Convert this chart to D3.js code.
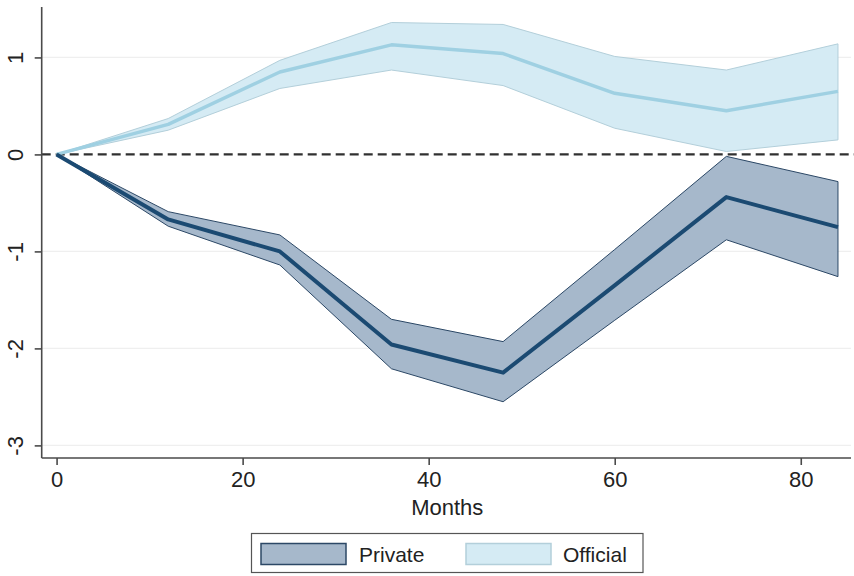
<!DOCTYPE html>
<html>
<head>
<meta charset="utf-8">
<script src="https://cdn.jsdelivr.net/npm/d3@7"></script>
<style>
  html, body { margin: 0; padding: 0; background: #ffffff; }
  svg { display: block; font-family: "Liberation Sans", Arial, sans-serif; }
</style>
</head>
<body>
<svg id="chart" width="854" height="576"></svg>
<script>
// Impulse responses by horizon (months)
const months = [0, 12, 24, 36, 48, 60, 72, 84];

const privateMean  = [0, -0.67, -1.00, -1.96, -2.25, -1.35, -0.44, -0.75];
const privateUpper = [0, -0.59, -0.83, -1.70, -1.93, -0.98, -0.02, -0.28];
const privateLower = [0, -0.74, -1.14, -2.21, -2.55, -1.71, -0.88, -1.26];

const officialMean  = [0, 0.31, 0.85, 1.13, 1.04, 0.63, 0.45, 0.65];
const officialUpper = [0, 0.37, 0.97, 1.36, 1.34, 1.01, 0.87, 1.14];
const officialLower = [0, 0.25, 0.68, 0.87, 0.71, 0.27, 0.03, 0.15];

const xTicks = [0, 20, 40, 60, 80];
const yTicks = [-3, -2, -1, 0, 1];
const legendLabels = ["Private", "Official"];

const svg = d3.select("#chart");

const x = d3.scaleLinear().domain([-1.6, 85.4]).range([41.7, 851]);
const y = d3.scaleLinear().domain([-3.13, 1.52]).range([458, 7]);

const colors = {
  privFill: "#a6b8cb", privEdge: "#2c4866", privLine: "#1b4a72",
  offFill: "#d5ebf4", offEdge: "#b3cfda", offLine: "#9fd0e2"
};

// light horizontal gridlines
svg.append("g")
  .selectAll("line")
  .data(yTicks.filter(v => v !== 0))
  .join("line")
  .attr("x1", x.range()[0]).attr("x2", x.range()[1])
  .attr("y1", d => y(d)).attr("y2", d => y(d))
  .attr("stroke", "#efefef").attr("stroke-width", 1.2);

const pts = (lo, hi) => months.map((m, i) => ({ m, lo: lo[i], hi: hi[i] }));
const area = d3.area().x(d => x(d.m)).y0(d => y(d.lo)).y1(d => y(d.hi));
const edge = key => d3.line().x(d => x(d.m)).y(d => y(d[key]));
const meanLine = d3.line().x(d => x(d[0])).y(d => y(d[1]));

function band(lo, hi, fill, stroke) {
  const data = pts(lo, hi);
  svg.append("path").datum(data).attr("d", area).attr("fill", fill);
  svg.append("path").datum(data).attr("d", edge("hi"))
    .attr("fill", "none").attr("stroke", stroke).attr("stroke-width", 1);
  svg.append("path").datum(data).attr("d", edge("lo"))
    .attr("fill", "none").attr("stroke", stroke).attr("stroke-width", 1);
  // closing edge at the last horizon
  const last = data[data.length - 1];
  svg.append("line")
    .attr("x1", x(last.m)).attr("x2", x(last.m))
    .attr("y1", y(last.lo)).attr("y2", y(last.hi))
    .attr("stroke", stroke).attr("stroke-width", 1);
}

band(officialLower, officialUpper, colors.offFill, colors.offEdge);
band(privateLower, privateUpper, colors.privFill, colors.privEdge);

// zero reference line
svg.append("line")
  .attr("x1", 41.7).attr("x2", 854)
  .attr("y1", y(0)).attr("y2", y(0))
  .attr("stroke", "#303030").attr("stroke-width", 2.2)
  .attr("stroke-dasharray", "9,5");

svg.append("path")
  .datum(months.map((m, i) => [m, officialMean[i]]))
  .attr("d", meanLine).attr("fill", "none")
  .attr("stroke", colors.offLine).attr("stroke-width", 3.5)
  .attr("stroke-linejoin", "round");

svg.append("path")
  .datum(months.map((m, i) => [m, privateMean[i]]))
  .attr("d", meanLine).attr("fill", "none")
  .attr("stroke", colors.privLine).attr("stroke-width", 4)
  .attr("stroke-linejoin", "round");

// axes (plain hyphen for negative labels)
const fmt = d => String(d);
const axisColor = "#4a4a4a";
const xAxis = svg.append("g").attr("transform", `translate(0,${y.range()[0]})`)
  .call(d3.axisBottom(x).tickValues(xTicks).tickSize(7).tickPadding(6).tickFormat(fmt));
const yAxis = svg.append("g").attr("transform", `translate(${x.range()[0]},0)`)
  .call(d3.axisLeft(y).tickValues(yTicks).tickSize(7).tickFormat(fmt));

[xAxis, yAxis].forEach(g => {
  g.select(".domain").attr("stroke", axisColor).attr("stroke-width", 1.6);
  g.selectAll(".tick line").attr("stroke", axisColor).attr("stroke-width", 1.6);
  g.selectAll(".tick text").attr("fill", "#222").style("font-size", "22px")
    .style("font-family", "'Liberation Sans', Arial, sans-serif");
});
xAxis.select(".domain").attr("d", `M${x.range()[0]},0H${x.range()[1]}`);
yAxis.select(".domain").attr("d", `M0,${y.range()[0]}V${y.range()[1]}`);

// rotated y tick labels
yAxis.selectAll(".tick text")
  .attr("x", null).attr("dy", null)
  .attr("text-anchor", "middle")
  .attr("transform", "translate(-19,0) rotate(-90)")
  .attr("y", 0);

xAxis.selectAll(".tick text").attr("dy", "0.71em");

// axis title
svg.append("text")
  .attr("x", (x(0) + x(84)) / 2).attr("y", 515)
  .attr("text-anchor", "middle")
  .attr("fill", "#222").style("font-size", "22px")
  .text("Months");

// legend
const legend = svg.append("g");
legend.append("rect")
  .attr("x", 251.5).attr("y", 533.5).attr("width", 391.5).attr("height", 39)
  .attr("fill", "#fff").attr("stroke", "#555").attr("stroke-width", 1.2);

const legendItems = [
  { label: legendLabels[0], fill: colors.privFill, stroke: colors.privEdge, sx: 261, tx: 359 },
  { label: legendLabels[1], fill: colors.offFill, stroke: colors.offEdge, sx: 466, tx: 563 }
];
legendItems.forEach(it => {
  legend.append("rect")
    .attr("x", it.sx).attr("y", 543.5).attr("width", 85).attr("height", 21)
    .attr("fill", it.fill).attr("stroke", it.stroke).attr("stroke-width", 1.5);
  legend.append("text")
    .attr("x", it.tx).attr("y", 562)
    .attr("fill", "#222").style("font-size", "21px")
    .text(it.label);
});
</script>
</body>
</html>
